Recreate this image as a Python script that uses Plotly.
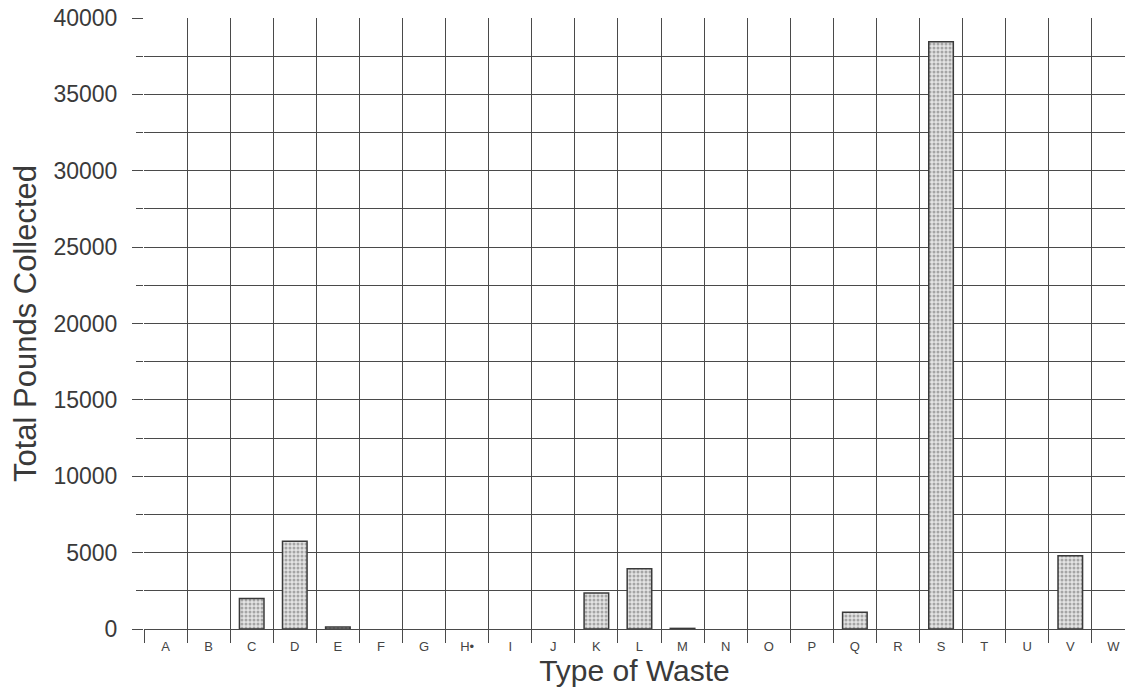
import plotly.graph_objects as go

categories = ["A", "B", "C", "D", "E", "F", "G", "H*", "I", "J", "K", "L",
              "M", "N", "O", "P", "Q", "R", "S", "T", "U", "V", "W"]
pounds = [0, 0, 2000, 5750, 130, 0, 0, 0, 0, 0, 2350, 3950,
          40, 0, 0, 0, 1100, 0, 38450, 0, 0, 4800, 0]
tick_labels = ["A", "B", "C", "D", "E", "F", "G", "H\u2022", "I", "J", "K", "L",
               "M", "N", "O", "P", "Q", "R", "S", "T", "U", "V", "W"]

grid = "#4a4a4a"
font_family = "Arial, Liberation Sans, sans-serif"

# zero-valued categories draw no bar at all
bar_values = [v if v > 0 else None for v in pounds]

fig = go.Figure()
fig.add_trace(go.Bar(
    x=categories,
    y=bar_values,
    width=0.57,
    marker=dict(
        color="#d8d8d8",
        line=dict(color="#3a3a3a", width=1.5),
        pattern=dict(shape=".", fgcolor="#666666", bgcolor="#e4e4e4",
                     size=4, solidity=0.45),
    ),
    showlegend=False,
))

fig.update_layout(
    width=1125, height=696,
    margin=dict(l=144, r=0, t=18, b=67, autoexpand=False),
    paper_bgcolor="white", plot_bgcolor="white",
    font=dict(family=font_family, color="#3a3a3a"),
    xaxis=dict(
        type="category",
        categoryorder="array", categoryarray=categories,
        tickmode="array", tickvals=categories, ticktext=tick_labels,
        tickson="boundaries",
        range=[-0.5, 22.27],
        automargin=False,
        showgrid=True, gridcolor=grid, gridwidth=1,
        ticks="outside", ticklen=13, tickcolor=grid, tickwidth=1,
        tickfont=dict(size=13, color="#444444"),
        ticklabelstandoff=8,
        ticklabeloverflow="allow",
        showline=False, zeroline=False,
        title=dict(text="Type of Waste", font=dict(size=30, color="#3a3a3a"), standoff=5),
    ),
    yaxis=dict(
        range=[0, 40000],
        automargin=False,
        tickmode="linear", tick0=0, dtick=5000,
        tickformat="d", exponentformat="none", separatethousands=False,
        showgrid=True, gridcolor=grid, gridwidth=1,
        ticks="outside", ticklen=11, tickcolor=grid, tickwidth=1,
        tickfont=dict(size=23, color="#3a3a3a"),
        ticklabelstandoff=10,
        ticklabeloverflow="allow",
        showline=False, zeroline=True, zerolinecolor=grid, zerolinewidth=1,
        minor=dict(dtick=2500, showgrid=True, gridcolor=grid, gridwidth=1,
                   ticks="outside", ticklen=7, tickcolor=grid),
        title=dict(text="Total Pounds Collected", font=dict(size=31, color="#3a3a3a"), standoff=7),
    ),
)

fig.write_html("out.html", config={"displayModeBar": False},
               post_script="document.body.style.margin='0';")
